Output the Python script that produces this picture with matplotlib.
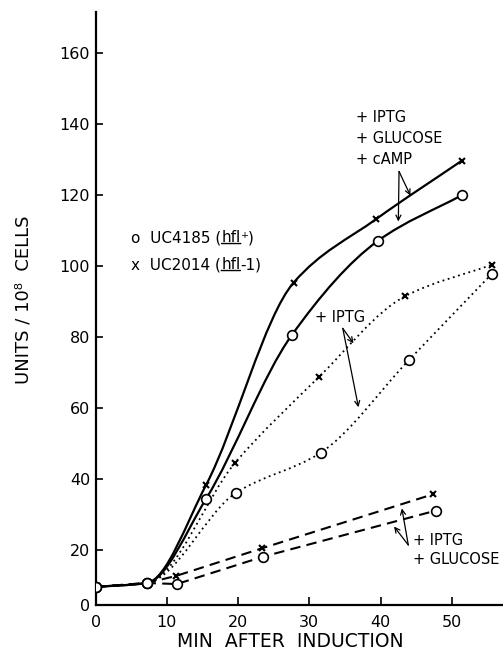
import matplotlib
matplotlib.use('Agg')
import matplotlib.pyplot as plt
import numpy as np
from matplotlib.path import Path
from matplotlib.patches import PathPatch

# minutes after induction / units per 10^8 cells
# + IPTG + glucose + cAMP (solid)
t_camp_x = [0, 7.2, 15.5, 27.8, 39.4, 51.4]
u_camp_x = [9.6, 10.7, 38.3, 95.3, 113.2, 129.6]
t_camp_o = [0, 7.2, 15.5, 27.5, 39.6, 51.5]
u_camp_o = [9.6, 10.7, 34.4, 80.4, 107.0, 120.0]

# + IPTG (dotted)
t_iptg_x = [0, 7.2, 19.6, 31.3, 43.4, 55.6]
u_iptg_x = [9.6, 10.7, 44.6, 68.6, 91.4, 100.3]
t_iptg_o = [0, 7.2, 19.7, 31.6, 44.0, 55.6]
u_iptg_o = [9.6, 10.7, 36.1, 47.4, 73.5, 97.7]

# + IPTG + glucose (dashed)
t_glu_x = [0, 7.2, 11.3, 23.4, 47.4]
u_glu_x = [9.6, 10.7, 12.7, 20.5, 35.7]
t_glu_o = [0, 7.2, 11.4, 23.5, 47.8]
u_glu_o = [9.6, 10.7, 10.4, 18.1, 31.1]

x_ticks = [0, 10, 20, 30, 40, 50]
y_ticks = [20, 40, 60, 80, 100, 120, 140, 160]
y_floor = 4.5   # the x axis sits a little above zero in the original


def smooth_path(t, u):
    # monotone cubic through the points, drawn as bezier segments
    t = np.asarray(t, float)
    u = np.asarray(u, float)
    h = np.diff(t)
    d = np.diff(u) / h
    m = np.empty_like(u)
    m[0], m[-1] = d[0], d[-1]
    for i in range(1, len(u) - 1):
        if d[i - 1] * d[i] <= 0:
            m[i] = 0
        else:
            w1 = 2 * h[i] + h[i - 1]
            w2 = h[i] + 2 * h[i - 1]
            m[i] = (w1 + w2) / (w1 / d[i - 1] + w2 / d[i])
    verts = [(t[0], u[0])]
    codes = [Path.MOVETO]
    for i in range(len(h)):
        verts += [(t[i] + h[i] / 3, u[i] + m[i] * h[i] / 3),
                  (t[i + 1] - h[i] / 3, u[i + 1] - m[i + 1] * h[i] / 3),
                  (t[i + 1], u[i + 1])]
        codes += [Path.CURVE4] * 3
    return Path(verts, codes)


fig = plt.figure(figsize=(5.03, 6.54), dpi=100)
ax = fig.add_axes([95.7 / 503, 1 - 605 / 654, (503 - 95.7) / 503, (605 - 12) / 654])

# curves
for t, u in [(t_camp_x, u_camp_x), (t_camp_o, u_camp_o)]:
    ax.add_patch(PathPatch(smooth_path(t, u), fill=False, lw=1.6, ec='black'))
for t, u in [(t_iptg_x, u_iptg_x), (t_iptg_o, u_iptg_o)]:
    ax.add_patch(PathPatch(smooth_path(t, u), fill=False, lw=1.3, ec='black',
                           ls=(0, (1, 2))))
for t, u in [(t_glu_x, u_glu_x), (t_glu_o, u_glu_o)]:
    ax.plot(t, u, color='black', lw=1.5, ls=(0, (5, 3)))

# markers
mk_o = dict(ls='none', marker='o', ms=7, mfc='white', mec='black', mew=1.2, zorder=5)
mk_x = dict(ls='none', marker='x', ms=5, mec='black', mew=1.5, zorder=5)
for t, u in [(t_camp_o, u_camp_o), (t_iptg_o, u_iptg_o), (t_glu_o, u_glu_o)]:
    ax.plot(t, u, **mk_o)
for t, u in [(t_camp_x, u_camp_x), (t_iptg_x, u_iptg_x), (t_glu_x, u_glu_x)]:
    ax.plot(t[2:], u[2:], **mk_x)

# axes
ax.set_xlim(0, 57.2)
ax.set_ylim(y_floor, 171.5)
ax.spines['top'].set_visible(False)
ax.spines['right'].set_visible(False)
ax.spines['left'].set_linewidth(1.6)
ax.spines['bottom'].set_linewidth(1.6)
ax.set_xticks(x_ticks)
ax.set_xticklabels([str(v) for v in x_ticks])
ax.set_yticks([y_floor] + y_ticks)
ax.set_yticklabels(['0'] + [str(v) for v in y_ticks])
ax.tick_params(axis='both', direction='in', width=1.2, labelsize=11.5)
ax.tick_params(axis='x', length=6, pad=7)
ax.tick_params(axis='y', length=5, pad=4)

fig.text(290 / 503, 1 - 647 / 654, 'MIN  AFTER  INDUCTION', ha='center', va='baseline',
         fontsize=13.5)
fig.text(24 / 503, 1 - 300 / 654, 'UNITS / 10⁸  CELLS', ha='center', va='center',
         rotation=90, fontsize=13)

# condition labels and arrows
fs = 10.5
ax.text(36.6, 141.7, '+ IPTG', fontsize=fs, va='center')
ax.text(36.6, 136.0, '+ GLUCOSE', fontsize=fs, va='center')
ax.text(36.6, 129.9, '+ cAMP', fontsize=fs, va='center')
ax.text(30.8, 85.4, '+ IPTG', fontsize=fs, va='center')
ax.text(44.6, 22.8, '+ IPTG', fontsize=fs, va='center')
ax.text(44.6, 17.2, '+ GLUCOSE', fontsize=fs, va='center')

arrow = dict(arrowstyle='->', lw=0.9, shrinkA=0, shrinkB=0, mutation_scale=9, color='black')
arrows = [((42.6, 126.6), (44.2, 119.8)), ((42.6, 126.6), (42.5, 112.5)),
          ((34.7, 82.4), (36.2, 78.2)), ((34.7, 82.4), (36.9, 60.2)),
          ((43.9, 21.4), (43.0, 31.7)), ((43.9, 21.4), (41.9, 26.6))]
for start, end in arrows:
    ax.annotate('', xy=end, xytext=start, arrowprops=arrow)

# legend written as text, with the underlined gene name
for y, strain, tail in [(107.9, 'o  UC4185 (', '⁺)'), (100.3, 'x  UC2014 (', '-1)')]:
    t1 = ax.text(5.0, y, strain, fontsize=11, va='center')
    t2 = ax.annotate('hfl', xy=(1, 0), xycoords=t1, fontsize=11, ha='left', va='bottom')
    ax.annotate(tail, xy=(1, 0), xycoords=t2, fontsize=11, ha='left', va='bottom')
    ax.annotate('', xy=(1, 0.12), xycoords=t2, xytext=(0, 0.12), textcoords=t2,
                arrowprops=dict(arrowstyle='-', lw=1.0, shrinkA=0, shrinkB=0))

fig.savefig('out.png', dpi=100)
